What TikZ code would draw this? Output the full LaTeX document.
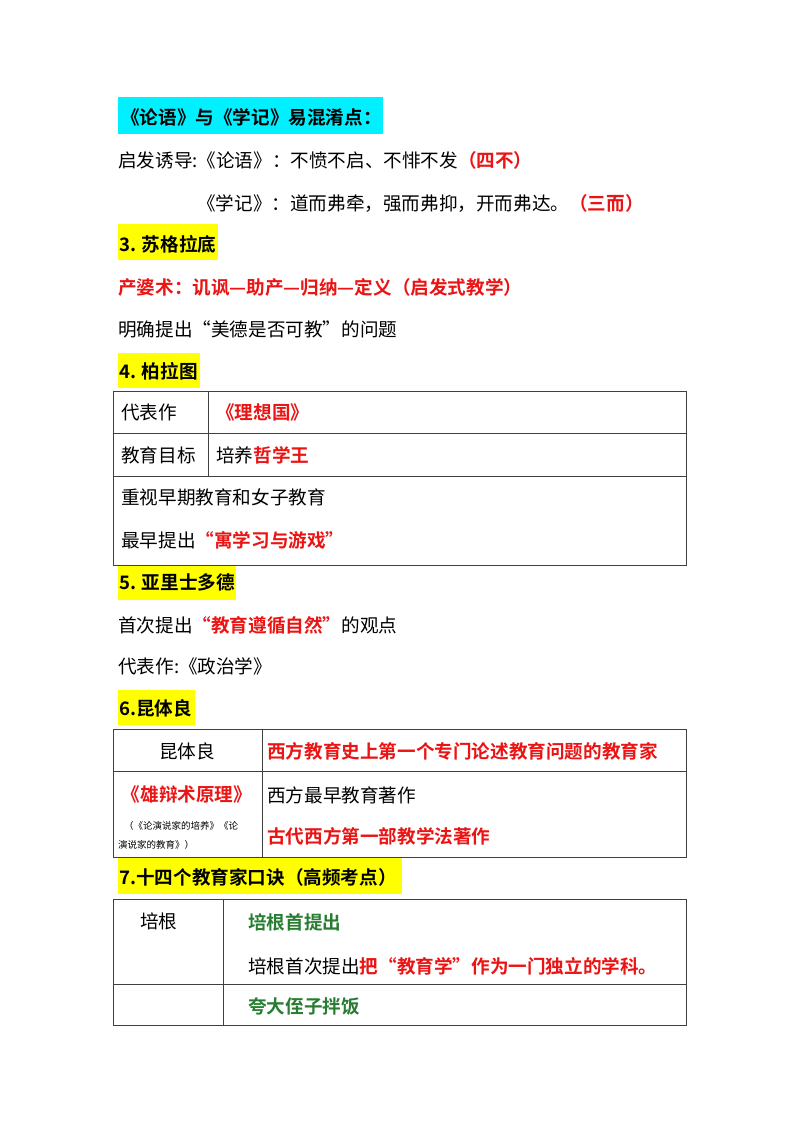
\documentclass[tikz,border=0pt]{standalone}
\usepackage{fontspec}
\setmainfont{Noto Sans CJK SC}
\newfontfamily\cjkb{Noto Sans CJK SC Bold}
\definecolor{rd}{RGB}{235,20,20}
\definecolor{gn}{RGB}{40,125,50}
\definecolor{hy}{RGB}{255,255,0}
\definecolor{hc}{RGB}{0,240,255}
\newcommand{\R}[1]{{\cjkb\color{rd}#1}}
\newcommand{\G}[1]{{\cjkb\color{gn}#1}}
\begin{document}
\begin{tikzpicture}[x=1pt,y=-1pt,
  t/.style={anchor=west,inner sep=0pt,font=\fontsize{18.6}{22}\selectfont},
  tc/.style={inner sep=0pt,font=\fontsize{18.6}{22}\selectfont},
  hd/.style={anchor=west,inner sep=0pt,font=\fontsize{18.6}{22}\selectfont\cjkb},
  sm/.style={anchor=west,inner sep=0pt,font=\fontsize{9.5}{12}\selectfont},
  grid/.style={draw=black!75,line width=0.8pt}]
\useasboundingbox (0,0) rectangle (800,1132);
\fill[hc] (118,97) rectangle (383,134);
\node[hd] (h0) at (121,117) {《论语》与《学记》易混淆点：};
\node[t] (l1) at (118,160) {启发诱导:《论语》：不愤不启、不悱不发\R{（四不）}};
\node[t] (l2) at (197,203) {《学记》：道而弗牵，强而弗抑，开而弗达。\R{（三而）}};
\fill[hy] (118,224) rectangle (218,260);
\node[hd] (h3) at (119,244) {3. 苏格拉底};
\node[t] (l3) at (118,287) {\R{产婆术：讥讽—助产—归纳—定义（启发式教学）}};
\node[t] (l4) at (118,329) {明确提出“美德是否可教”的问题};
\fill[hy] (118,353) rectangle (200,388);
\node[hd] (h4) at (119,371) {4. 柏拉图};
\draw[grid] (113,391) rectangle (686,565);
\draw[grid] (113,433) -- (686,433) (113,476) -- (686,476) (208,391) -- (208,476);
\node[t] (a1) at (121,412) {代表作};
\node[t] (a2) at (216,412) {\R{《理想国》}};
\node[t] (b1) at (121,455) {教育目标};
\node[t] (b2) at (216,455) {培养\R{哲学王}};
\node[t] (c1) at (121,497) {重视早期教育和女子教育};
\node[t] (c2) at (121,540) {最早提出\R{“寓学习与游戏”}};
\fill[hy] (118,566) rectangle (236,600);
\node[hd] (h5) at (119,582) {5. 亚里士多德};
\node[t] (l5) at (118,625) {首次提出\R{“教育遵循自然”}的观点};
\node[t] (l6) at (118,666) {代表作:《政治学》};
\fill[hy] (118,690) rectangle (195,725);
\node[hd] (h6) at (119,708) {6.昆体良};
\draw[grid] (113,729) rectangle (686,857);
\draw[grid] (113,771) -- (686,771) (262,729) -- (262,857);
\node[tc] (d1) at (187,751) {昆体良};
\node[t] (d2) at (267,751) {\R{西方教育史上第一个专门论述教育问题的教育家}};
\node[tc] (e1) at (187,794) {\R{《雄辩术原理》}};
\node[sm] (e2) at (124,826) {（《论演说家的培养》《论};
\node[sm] (e3) at (118,845) {演说家的教育》）};
\node[t] (e4) at (267,795) {西方最早教育著作};
\node[t] (e5) at (267,836) {\R{古代西方第一部教学法著作}};
\fill[hy] (118,858) rectangle (402,894);
\node[hd] (h7) at (119,877) {7.十四个教育家口诀（高频考点）};
\draw[grid] (113,899) rectangle (686,1025);
\draw[grid] (113,984) -- (686,984) (223,899) -- (223,1025);
\node[t] (f1) at (140,921) {培根};
\node[t] (f2) at (248,922) {\G{培根首提出}};
\node[t] (f3) at (248,966) {培根首次提出\R{把“教育学”作为一门独立的学科。}};
\node[t] (g2) at (248,1006) {\G{夸大侄子拌饭}};
\end{tikzpicture}
\end{document}
